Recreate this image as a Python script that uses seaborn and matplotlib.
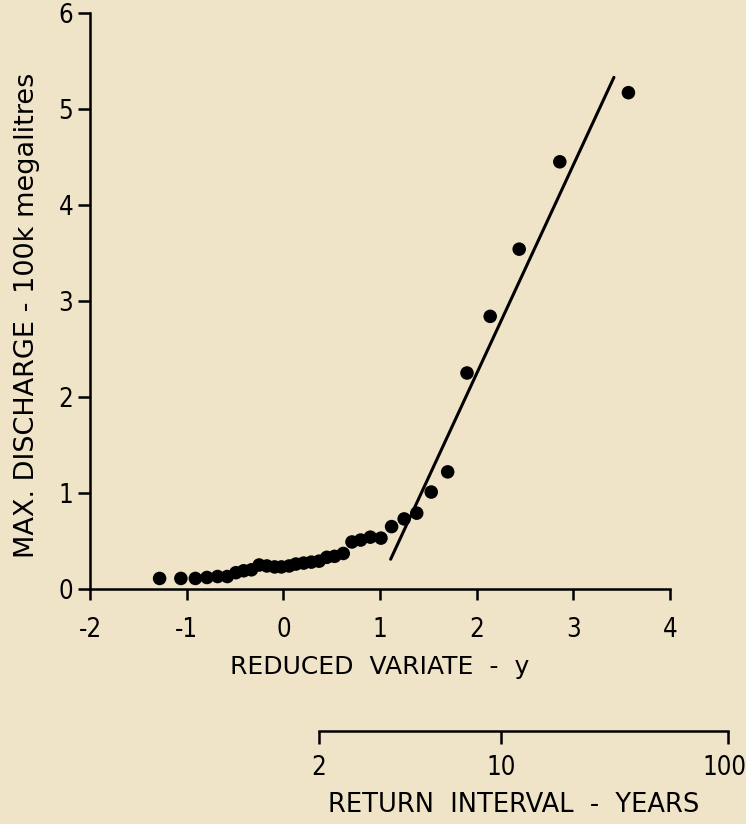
import numpy as np
import pandas as pd
import matplotlib
matplotlib.use("Agg")
import matplotlib.pyplot as plt
import matplotlib.transforms as mtransforms
import seaborn as sns

# ---- data ----
reduced_variate = [-1.28, -1.06, -0.91, -0.79, -0.68, -0.58, -0.49, -0.41, -0.33, -0.25,
                   -0.17, -0.09, -0.02, 0.06, 0.13, 0.21, 0.29, 0.37, 0.45, 0.53,
                   0.62, 0.71, 0.80, 0.90, 1.01, 1.12, 1.25, 1.38, 1.53, 1.70,
                   1.90, 2.14, 2.44, 2.86, 3.57]
max_discharge = [0.11, 0.11, 0.11, 0.12, 0.13, 0.13, 0.17, 0.19, 0.20, 0.25,
                 0.24, 0.23, 0.23, 0.24, 0.26, 0.27, 0.28, 0.29, 0.33, 0.34,
                 0.37, 0.49, 0.51, 0.54, 0.53, 0.65, 0.73, 0.79, 1.01, 1.22,
                 2.25, 2.84, 3.54, 4.45, 5.17]
fit_x = [1.11, 3.42]
fit_y = [0.31, 5.33]
x_ticks = [-2, -1, 0, 1, 2, 3, 4]
y_ticks = [0, 1, 2, 3, 4, 5, 6]
return_intervals = [2, 10, 100]
return_labels = ["2", "10", "100"]

bg = "#f0e4c8"
sns.set_theme(style="ticks")
plt.rcParams["font.family"] = ["DejaVu Sans"]
plt.rcParams["font.stretch"] = "condensed"
plt.rcParams["text.color"] = "black"
plt.rcParams["axes.labelcolor"] = "black"
plt.rcParams["axes.edgecolor"] = "black"
plt.rcParams["axes.linewidth"] = 1.8
plt.rcParams["xtick.major.width"] = 1.8
plt.rcParams["ytick.major.width"] = 1.8

W, H = 746, 824
fig = plt.figure(figsize=(W / 100, H / 100), dpi=100, facecolor=bg)

ax = fig.add_axes([90 / W, (H - 589) / H, 580 / W, 576 / H])
ax.set_facecolor(bg)

df = pd.DataFrame({"y": reduced_variate, "q": max_discharge})
fit = pd.DataFrame({"x": fit_x, "y": fit_y})
sns.scatterplot(data=df, x="y", y="q", ax=ax, color="black", s=95,
                edgecolor="none", zorder=3, legend=False)
sns.lineplot(data=fit, x="x", y="y", ax=ax, color="black", linewidth=2.2,
             zorder=2, legend=False)

ax.set_xlim(-2, 4)
ax.set_ylim(0, 6)
ax.set_xticks(x_ticks)
ax.set_yticks(y_ticks)
ax.set_xticklabels([str(t) for t in x_ticks])
ax.set_yticklabels([str(t) for t in y_ticks])
for sp in ["top", "right"]:
    ax.spines[sp].set_visible(False)
ax.tick_params(axis="x", direction="out", length=8, pad=12, labelsize=18.5, colors="black")
ax.tick_params(axis="y", direction="out", length=9, pad=3, labelsize=18.5, colors="black")
ax.set_xlabel("REDUCED  VARIATE  -  y", fontsize=18, fontstretch="normal", labelpad=9)
ax.set_ylabel("MAX. DISCHARGE - 100k megalitres", fontsize=19.5, fontstretch="normal")
ax.yaxis.set_label_coords(-50 / 580, (589 - 315) / 576)

# secondary return-interval axis (Gumbel: y = -ln(-ln(1 - 1/T)))
rv_pos = [-np.log(-np.log(1 - 1 / t)) for t in return_intervals]
ax2 = fig.add_axes([90 / W, (H - 731) / H, (W - 90) / W, 0.0001])
ax2.set_facecolor("none")
ax2.set_xlim(-2, -2 + (W - 90) / (580 / 6))
ax2.set_ylim(0, 1)
for sp in ["top", "right", "left"]:
    ax2.spines[sp].set_visible(False)
ax2.spines["bottom"].set_bounds(rv_pos[0], rv_pos[-1])
ax2.set_yticks([])
ax2.set_xticks(rv_pos)
ax2.set_xticklabels(return_labels)
ax2.tick_params(axis="x", direction="out", length=9, pad=8, labelsize=18.5, colors="black")
last = ax2.get_xticklabels()[-1]
last.set_transform(last.get_transform() +
                   mtransforms.ScaledTranslation(-4 / 100, 0, fig.dpi_scale_trans))
fig.text(514 / W, 1 - 805 / H, "RETURN  INTERVAL  -  YEARS", fontsize=18.5,
         fontstretch="normal", ha="center", va="center", color="black")

fig.savefig("out.png", dpi=100, facecolor=bg)
